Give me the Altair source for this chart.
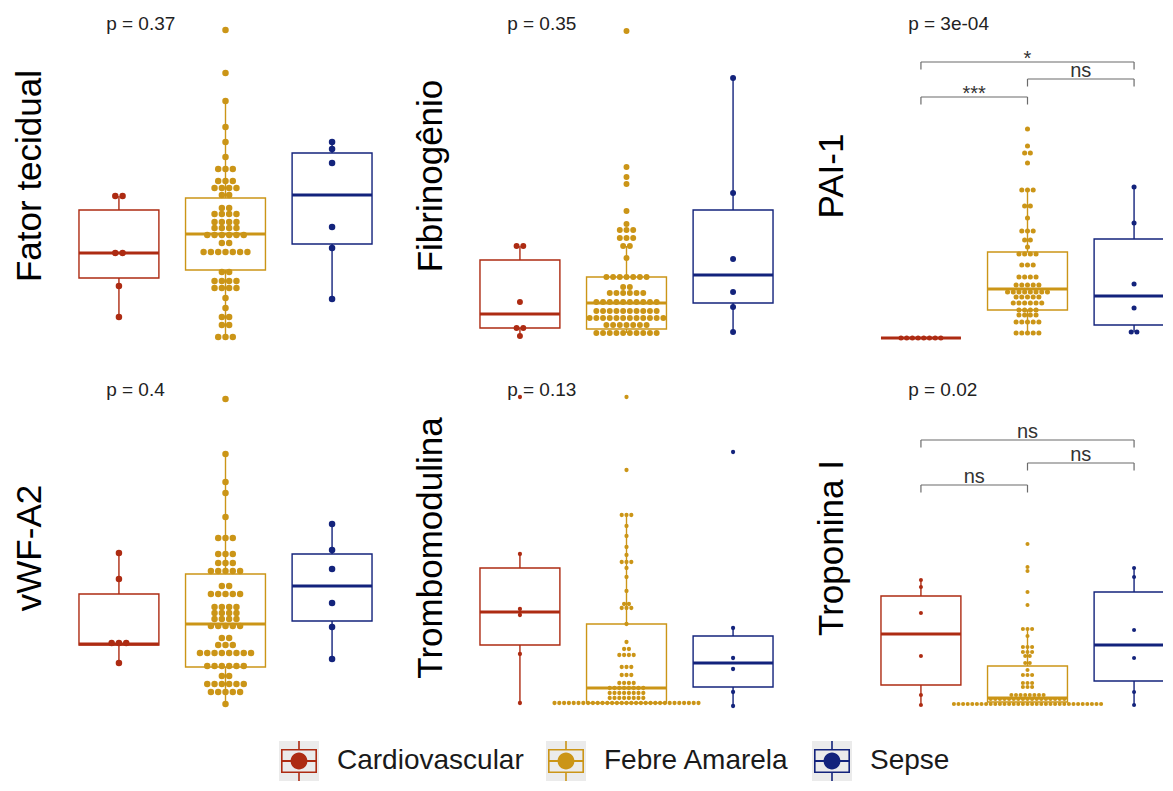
import altair as alt
import pandas as pd

GROUPS = ["Cardiovascular", "Febre Amarela", "Sepse"]
COLORS = ["#AD2B12", "#CB9517", "#13237C"]

TITLES = ["Fator tecidual", "Fibrinogênio", "PAI-1", "vWF-A2", "Trombomodulina", "Troponina I"]
P_LABELS = ["p = 0.37", "p = 0.35", "p = 3e-04", "p = 0.4", "p = 0.13", "p = 0.02"]
P_LABEL_Y = [31.9, 31.9, 31.9, 32.5, 32.5, 32.5]

# ---------------- values (arbitrary units) ----------------
# Fator tecidual
FT_CARDIO = [14.7, 14.7, 9.0, 9.0, 5.7, 2.6]
FT_FEBRE = [31.3, 27.0, 24.2, 21.6, 20.1, 18.6,
            17.4, 17.4, 17.4, 16.2, 16.2, 16.2, 15.5, 15.5, 15.5, 15.5, 14.8, 14.8,
            13.5, 13.5, 12.9, 12.9, 12.9, 12.9, 12.1, 12.1, 12.1, 12.1, 11.5, 11.5, 11.5, 11.5,
            10.8, 10.8, 10.8, 10.8, 10.8, 10.8, 10.0, 10.0,
            9.1, 9.1, 9.1, 9.1, 9.1, 9.1, 9.1,
            7.1, 7.1, 6.2, 6.2, 6.2, 6.2, 5.5, 5.5, 5.5, 5.5,
            4.5, 3.5, 2.6, 2.6, 1.8, 1.8, 0.6, 0.6, 0.6]
FT_SEPSE = [20.1, 19.4, 18.0, 11.6, 9.5, 4.4]
# box stats per group: [low whisker, q1, median, q3, high whisker]
FT_BOX = [[2.6, 6.5, 9.0, 13.3, 14.7], [0.6, 7.3, 10.9, 14.5, 24.2], [4.4, 9.9, 14.8, 19.0, 20.1]]

# Fibrinogênio
FI_CARDIO = [9.7, 9.7, 4.1, 1.5, 1.5, 0.7]
FI_FEBRE = [31.2, 17.6, 16.6, 15.9, 13.2, 11.9, 11.3, 11.3, 11.3, 10.5, 10.5, 10.5, 9.7, 9.7, 8.5,
            6.6, 6.6, 6.6, 6.6, 6.6, 6.6, 6.6, 5.6, 5.6,
            5.0, 5.0, 5.0, 5.0, 5.0, 5.0,
            4.1, 4.1, 4.1, 4.1, 4.1, 4.1, 4.1, 4.1, 4.1, 4.1,
            3.2, 3.2, 3.2, 3.2, 3.2, 3.2, 3.2, 3.2, 3.2, 3.2,
            2.5, 2.5, 2.5, 2.5, 2.5, 2.5, 2.5, 2.5, 2.5, 2.5, 2.5, 2.5,
            1.8, 1.8, 1.8, 1.8, 1.8, 1.8, 1.8,
            1.0, 1.0, 1.0, 1.0, 1.0, 1.0, 1.0, 1.0, 1.0, 1.0]
FI_SEPSE = [26.5, 15.0, 8.4, 5.1, 3.6, 1.1]
FI_BOX = [[0.7, 1.5, 2.9, 8.3, 9.7], [1.0, 1.4, 4.0, 6.6, 9.7], [1.1, 4.0, 6.8, 13.3, 26.5]]

# PAI-1
PAI_CARDIO = [0.5, 0.5, 0.5, 0.5, 0.5, 0.5, 0.5, 0.5]
PAI_FEBRE = [21.4, 19.7, 19.0, 19.0, 18.0, 15.3, 15.3, 15.3, 13.7, 13.7, 12.5,
             11.2, 11.2, 11.2, 10.3, 10.3, 9.6, 8.9, 8.9, 8.9, 8.9, 7.8, 7.8, 7.8,
             6.6, 6.6, 6.6, 6.6, 5.8, 5.8, 5.8, 5.8, 5.8,
             5.1, 5.1, 5.1, 5.1, 5.1, 5.1, 5.1, 5.1, 4.6, 4.6, 4.6, 4.6, 4.6,
             4.0, 4.0, 4.0, 4.0, 4.0, 4.0, 3.3, 3.3, 3.3, 3.3, 2.8, 2.8, 2.8, 2.8,
             2.1, 2.1, 2.1, 2.1, 2.1, 1.0, 1.0, 1.0, 1.0, 1.0]
PAI_SEPSE = [15.6, 12.0, 5.9, 3.5, 1.1, 1.1]
PAI_BOX = [[0.5, 0.5, 0.5, 0.5, 0.5], [1.0, 3.3, 5.4, 9.1, 15.3], [1.1, 1.8, 4.7, 10.4, 15.6]]

# vWF-A2
VW_CARDIO = [16.2, 13.6, 7.2, 7.2, 7.2, 5.2]
VW_FEBRE = [31.6, 26.1, 23.3, 22.2, 19.8, 17.7, 17.7, 17.7, 16.1, 16.1, 16.1, 15.2, 15.2, 15.2,
            14.4, 14.4, 14.4, 14.4, 14.4, 12.9, 12.9, 12.1, 12.1, 12.1, 12.1, 12.1,
            10.8, 10.8, 10.8, 10.8, 10.2, 10.2, 10.2, 10.2, 9.6, 9.6, 9.6, 9.6,
            8.9, 8.9, 8.9, 8.9, 8.9, 7.7, 7.7, 7.0, 7.0, 7.0,
            6.2, 6.2, 6.2, 6.2, 6.2, 6.2, 6.2, 6.2, 4.9, 4.9, 4.9, 4.9, 4.9, 4.9,
            3.9, 3.9, 3.1, 3.1, 3.1, 3.1, 3.1, 3.1, 2.3, 2.3, 2.3, 2.3, 2.3, 1.1]
VW_SEPSE = [19.1, 16.5, 14.6, 11.2, 8.8, 5.6]
VW_BOX = [[5.2, 7.0, 7.1, 12.1, 16.2], [1.1, 4.8, 9.1, 14.1, 26.1], [5.6, 9.4, 12.9, 16.1, 19.1]]

# Trombomodulina
TM_CARDIO = [31.8, 16.1, 10.6, 10.0, 6.1, 1.2]
TM_FEBRE = [31.8, 24.5, 20.0, 20.0, 20.0, 18.9, 17.9, 16.8, 16.0, 15.3, 15.3, 15.3, 14.7, 13.8, 12.4,
            11.1, 11.1, 10.7, 10.7, 10.7, 9.1, 7.3, 6.6, 6.6, 6.0, 6.0, 6.0, 6.0,
            4.8, 4.8, 4.8, 4.0, 4.0, 4.0, 3.2, 3.2, 3.2, 3.2,
            2.7, 2.7, 2.7, 2.7, 2.7, 2.7, 2.7, 2.7, 2.2, 2.2, 2.2, 2.2, 2.2, 2.2, 2.2, 2.2,
            1.7, 1.7, 1.7, 1.7, 1.7, 1.7, 1.7, 1.7,
            1.2, 1.2, 1.2, 1.2, 1.2, 1.2, 1.2, 1.2, 1.2, 1.2, 1.2, 1.2, 1.2, 1.2, 1.2, 1.2,
            1.2, 1.2, 1.2, 1.2, 1.2, 1.2, 1.2, 1.2, 1.2, 1.2, 1.2, 1.2, 1.2, 1.2, 1.2]
TM_SEPSE = [26.3, 8.7, 5.7, 4.6, 2.3, 0.9]
TM_BOX = [[1.2, 7.0, 10.3, 14.7, 16.1], [1.2, 1.2, 2.7, 9.1, 20.0], [0.9, 2.8, 5.2, 7.9, 8.7]]

# Troponina I
TR_CARDIO = [13.5, 12.8, 10.2, 5.9, 2.0, 1.0]
TR_FEBRE = [17.1, 14.8, 14.4, 12.3, 11.0, 8.6, 8.6, 8.6, 7.9, 6.8, 6.8, 6.8, 6.3, 6.3, 6.3,
            5.9, 5.9, 5.2, 5.2, 4.5, 4.0, 4.0, 4.0, 3.2, 3.2, 3.2, 2.8, 2.8, 2.8,
            2.0, 2.0, 2.0, 2.0, 2.0, 2.0, 2.0, 2.0,
            1.6, 1.6, 1.6, 1.6, 1.6, 1.6, 1.6, 1.6, 1.6, 1.6, 1.6, 1.6, 1.6, 1.6, 1.6, 1.6, 1.6,
            1.1, 1.1, 1.1, 1.1, 1.1, 1.1, 1.1, 1.1, 1.1, 1.1, 1.1, 1.1, 1.1, 1.1, 1.1, 1.1, 1.1,
            1.1, 1.1, 1.1, 1.1, 1.1, 1.1, 1.1, 1.1, 1.1, 1.1, 1.1, 1.1, 1.1, 1.1, 1.1, 1.1]
TR_SEPSE = [14.7, 13.8, 8.5, 5.7, 2.3, 1.0]
TR_BOX = [[1.0, 3.0, 8.1, 11.9, 13.5], [1.1, 1.3, 1.7, 4.9, 8.7], [1.0, 3.4, 7.0, 12.3, 14.7]]

# pairwise comparison brackets (group indices 1..3)
BRACKET_LEFT = [1, 2, 1]
BRACKET_RIGHT = [3, 3, 2]
PAI_BRACKET_Y = [28.1, 26.4, 24.6]
PAI_BRACKET_LABELS = ["*", "ns", "***"]
TR_BRACKET_Y = [27.5, 25.2, 23.0]
TR_BRACKET_LABELS = ["ns", "ns", "ns"]

# ---------------- styling ----------------
FONT = "Liberation Sans"
PANEL_W = 341
PANEL_W_LAST = 306
PANEL_H = 335
X_MIN, X_MAX = 0.4, 3.6
Y_DOMAIN = [0, 33.5]
PX_PER_UNIT = PANEL_W / (X_MAX - X_MIN)
DOT_D = [7.3, 6.7, 5.7, 7.3, 4.8, 4.6]
BOX_HALF = 0.375
TICK_LEN = 0.75
P_LABEL_X = 0.88
GREY = "#6b6b6b"
KEY_BG = "#EBEBEB"
ZWSP = "\u200b"

GLYPH = ("M -0.9 -0.6 H 0.9 V -0.52 H -0.9 Z "
         "M -0.9 0.52 H 0.9 V 0.6 H -0.9 Z "
         "M -0.9 -0.6 H -0.82 V 0.6 H -0.9 Z "
         "M 0.82 -0.6 H 0.9 V 0.6 H 0.82 Z "
         "M -0.9 -0.045 H 0.9 V 0.045 H -0.9 Z "
         "M -0.04 -1 H 0.04 V -0.6 H -0.04 Z "
         "M -0.04 0.6 H 0.04 V 1 H -0.04 Z "
         "M -0.42 0 A 0.42 0.42 0 1 1 0.42 0 A 0.42 0.42 0 1 1 -0.42 0 Z")

LEG_COMMON = dict(
    title=None, orient="none", legendX=224, legendY=733, direction="horizontal", columns=3,
    symbolSize=1600, symbolStrokeWidth=0, symbolOpacity=1,
    labelFontSize=28, labelFont=FONT, labelOffset=18,
    columnPadding=22, padding=0, labelLimit=400,
)
LEGEND = alt.Legend(symbolType=GLYPH, labelColor="#1a1a1a", **LEG_COMMON)
BG_LEGEND = alt.Legend(symbolType="square", labelColor="transparent", **LEG_COMMON)

FSCALE = alt.Scale(domain=GROUPS, range=COLORS)
BG_GROUPS = [g + ZWSP for g in GROUPS]
BGSCALE = alt.Scale(domain=BG_GROUPS, range=[KEY_BG, KEY_BG, KEY_BG])
GROUP_COLOR = dict(zip(GROUPS, COLORS))


def make_panel(title, vals, box, p_label, p_y, dot_d, width=PANEL_W,
               br_y=None, br_labels=None, key_bg=False):
    clip = width < PANEL_W
    spacing = dot_d / PX_PER_UNIT
    rows = []
    for gi, g in enumerate(GROUPS):
        counts = {}
        for v in vals[gi]:
            counts[v] = counts.get(v, 0) + 1
        seen = {}
        for v in vals[gi]:
            k = seen.get(v, 0)
            seen[v] = k + 1
            rows.append({"group": g, "value": v,
                         "xpos": gi + 1 + (k - (counts[v] - 1) / 2) * spacing})
    dots = pd.DataFrame(rows)

    bdf = pd.DataFrame({
        "group": GROUPS, "gx": [1, 2, 3],
        "lo": [b[0] for b in box], "q1": [b[1] for b in box], "med": [b[2] for b in box],
        "q3": [b[3] for b in box], "hi": [b[4] for b in box],
    })
    bdf["left"] = bdf["gx"] - BOX_HALF
    bdf["right"] = bdf["gx"] + BOX_HALF
    bdf["col"] = bdf["group"].map(GROUP_COLOR)

    xs = alt.Scale(domain=[X_MIN, X_MIN + width / PX_PER_UNIT], nice=False, zero=False)
    ys = alt.Scale(domain=Y_DOMAIN, nice=False, zero=False)
    yaxis = alt.Axis(title=title, labels=False, ticks=False, domain=False, grid=False,
                     titleFontSize=35, titleFontWeight="normal", titleColor="#000000",
                     titleFont=FONT, titlePadding=8, minExtent=0)

    def X(f):
        return alt.X(f, type="quantitative", scale=xs, axis=None)

    def Y(f):
        return alt.Y(f, type="quantitative", scale=ys, axis=yaxis)

    stroke = alt.Stroke("col:N", scale=None)
    fill = alt.Fill("group:N", scale=FSCALE, legend=LEGEND)

    layers = []
    if key_bg:
        kdf = pd.DataFrame({"key": BG_GROUPS, "gx": [1, 2, 3], "v": [1.0, 1.0, 1.0]})
        layers.append(
            alt.Chart(kdf).transform_filter("false").mark_square(opacity=1).encode(
                x=X("gx"), y=Y("v"),
                color=alt.Color("key:N", scale=BGSCALE, legend=BG_LEGEND))
        )

    base = alt.Chart(bdf)
    layers += [
        base.mark_rule(strokeWidth=1.4, clip=clip).encode(x=X("gx"), y=Y("lo"), y2="q1", stroke=stroke),
        base.mark_rule(strokeWidth=1.4, clip=clip).encode(x=X("gx"), y=Y("q3"), y2="hi", stroke=stroke),
        base.mark_rect(fill="white", strokeWidth=1.4, clip=clip).encode(
            x=X("left"), x2="right", y=Y("q1"), y2="q3", stroke=stroke),
        base.mark_rule(strokeWidth=2.8, clip=clip).encode(
            x=X("left"), x2="right", y=Y("med"), stroke=stroke),
        alt.Chart(dots).mark_circle(size=3.14159 / 4 * dot_d * dot_d, opacity=1,
                                    strokeWidth=0, clip=clip).encode(
            x=X("xpos"), y=Y("value"), fill=fill),
    ]

    if br_y is not None:
        br = pd.DataFrame({"x1": BRACKET_LEFT, "x2": BRACKET_RIGHT, "y": br_y, "label": br_labels})
        br["ytick"] = br["y"] - TICK_LEN
        br["xm"] = (br["x1"] + br["x2"]) / 2
        bb = alt.Chart(br)
        layers += [
            bb.mark_rule(color=GREY, strokeWidth=1.2).encode(x=X("x1"), x2="x2", y=Y("y")),
            bb.mark_rule(color=GREY, strokeWidth=1.2).encode(x=X("x1"), y=Y("y"), y2="ytick"),
            bb.mark_rule(color=GREY, strokeWidth=1.2).encode(x=X("x2"), y=Y("y"), y2="ytick"),
            bb.transform_filter("indexof(datum.label, '*') < 0").mark_text(
                fontSize=20, font=FONT, color="#333333", baseline="alphabetic", dy=-2
            ).encode(x=X("xm"), y=Y("y"), text="label:N"),
            bb.transform_filter("indexof(datum.label, '*') >= 0").mark_text(
                fontSize=20, font=FONT, color="#333333", baseline="alphabetic", dy=3
            ).encode(x=X("xm"), y=Y("y"), text="label:N"),
        ]

    pdf = pd.DataFrame({"px": [P_LABEL_X], "py": [p_y], "label": [p_label]})
    layers.append(
        alt.Chart(pdf).mark_text(fontSize=19, font=FONT, color="#222222", align="left",
                                 baseline="middle").encode(x=X("px"), y=Y("py"), text="label:N")
    )
    return alt.layer(*layers).properties(width=width, height=PANEL_H)


p1 = make_panel(TITLES[0], [FT_CARDIO, FT_FEBRE, FT_SEPSE], FT_BOX, P_LABELS[0], P_LABEL_Y[0], DOT_D[0],
                key_bg=True)
p2 = make_panel(TITLES[1], [FI_CARDIO, FI_FEBRE, FI_SEPSE], FI_BOX, P_LABELS[1], P_LABEL_Y[1], DOT_D[1])
p3 = make_panel(TITLES[2], [PAI_CARDIO, PAI_FEBRE, PAI_SEPSE], PAI_BOX, P_LABELS[2], P_LABEL_Y[2], DOT_D[2],
                width=PANEL_W_LAST, br_y=PAI_BRACKET_Y, br_labels=PAI_BRACKET_LABELS)
p4 = make_panel(TITLES[3], [VW_CARDIO, VW_FEBRE, VW_SEPSE], VW_BOX, P_LABELS[3], P_LABEL_Y[3], DOT_D[3])
p5 = make_panel(TITLES[4], [TM_CARDIO, TM_FEBRE, TM_SEPSE], TM_BOX, P_LABELS[4], P_LABEL_Y[4], DOT_D[4])
p6 = make_panel(TITLES[5], [TR_CARDIO, TR_FEBRE, TR_SEPSE], TR_BOX, P_LABELS[5], P_LABEL_Y[5], DOT_D[5],
                width=PANEL_W_LAST, br_y=TR_BRACKET_Y, br_labels=TR_BRACKET_LABELS)

RES = dict(x="independent", y="independent", fill="shared", color="shared")
row1 = alt.hconcat(p1, p2, p3, spacing=17).resolve_scale(**RES)
row2 = alt.hconcat(p4, p5, p6, spacing=17).resolve_scale(**RES)
grid = alt.vconcat(row1, row2, spacing=37).resolve_scale(**RES)

# empty strip under the grid so the page keeps room for the legend
spacer = alt.Chart(pd.DataFrame({"group": GROUPS})).mark_point(opacity=0).encode(
    x=alt.value(0), y=alt.value(0)).properties(width=10, height=45)

chart = (
    alt.vconcat(grid, spacer, spacing=20)
    .resolve_scale(**RES)
    .properties(padding={"left": 4, "top": 0, "right": 0, "bottom": 0})
    .configure(font=FONT, background="white")
    .configure_view(strokeWidth=0, stroke="transparent")
)

chart.save("out.html", embed_options={"renderer": "svg", "actions": False})
